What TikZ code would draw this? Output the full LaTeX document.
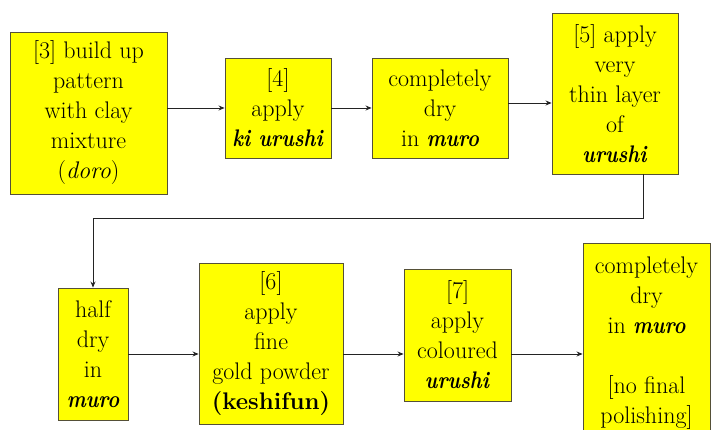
\documentclass[tikz,border=0pt]{standalone}
\usetikzlibrary{arrows.meta}
\definecolor{boxfill}{RGB}{255,255,0}
\definecolor{boxline}{RGB}{85,80,55}
\definecolor{wire}{RGB}{35,35,35}
% narrow bold italic for the Japanese terms
\newcommand\bi[1]{\scalebox{0.84}[1]{\textbf{\textit{#1}}}}
\tikzset{
  stepbox/.style={draw=boxline, fill=boxfill, line width=0.9pt, inner sep=0pt,
    align=center, font=\rmfamily\fontsize{24}{30}\selectfont},
  flow/.style={draw=wire, line width=0.8pt, -{Stealth[length=6pt,width=5pt]}}
}
\begin{document}
\begin{tikzpicture}[x=1pt,y=1pt]
  \fill[white] (0,0) rectangle (711,430);
  \clip (0,0) rectangle (711,430);

  % upper row
  \node[stepbox, minimum width=157, minimum height=162] (b1) at (88.5,317)
    {[3] build up\\pattern\\with clay\\mixture\\(\textit{doro})};
  \node[stepbox, minimum width=106, minimum height=100] (b2) at (278,322)
    {[4]\\apply\\\bi{ki urushi}};
  \node[stepbox, minimum width=136, minimum height=100] (b3) at (440,322)
    {completely\\dry\\in \bi{muro}};
  \node[stepbox, minimum width=126, minimum height=161] (b4) at (615,336.5)
    {[5] apply\\very\\thin layer\\of\\\bi{urushi}};

  % lower row
  \node[stepbox, minimum width=70, minimum height=132] (b5) at (93,76)
    {half\\dry\\in\\\bi{muro}};
  \node[stepbox, minimum width=144, minimum height=161] (b6) at (271,86.5)
    {[6]\\apply\\fine\\gold powder\\\textbf{(keshifun)}};
  \node[stepbox, minimum width=107, minimum height=132] (b7) at (457.5,95)
    {[7]\\apply\\coloured\\\bi{urushi}};
  \node[stepbox, minimum width=127, minimum height=200] (b8) at (646.5,87)
    {completely\\dry\\in \bi{muro}\\[30pt]{}[no final\\polishing]};

  \coordinate (row2) at (b5.east);

  % connectors
  \draw[flow] (b1.east |- b2.west) -- (b2.west);
  \draw[flow] (b2.east) -- (b3.west);
  \draw[flow] ([yshift=5pt]b3.east) -- ([yshift=5pt]b3.east -| b4.west);
  \draw[flow] ([xshift=28pt]b4.south) -- ++(0,-44) -| (b5.north);
  \draw[flow] (row2) -- (row2 -| b6.west);
  \draw[flow] (row2 -| b6.east) -- (row2 -| b7.west);
  \draw[flow] (row2 -| b7.east) -- (row2 -| b8.west);
\end{tikzpicture}
\end{document}
